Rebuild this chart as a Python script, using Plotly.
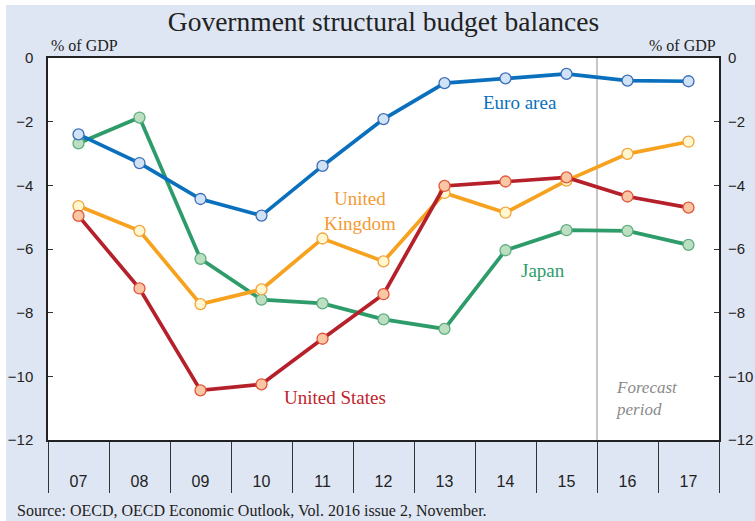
import plotly.graph_objects as go

years = ["07", "08", "09", "10", "11", "12", "13", "14", "15", "16", "17"]
euro_area = [-2.40, -3.30, -4.43, -4.95, -3.39, -1.92, -0.79, -0.64, -0.50, -0.71, -0.73]
japan = [-2.68, -1.87, -6.31, -7.59, -7.71, -8.21, -8.51, -6.04, -5.41, -5.43, -5.87]
united_kingdom = [-4.65, -5.43, -7.73, -7.27, -5.67, -6.39, -4.24, -4.86, -3.85, -3.01, -2.63]
united_states = [-4.96, -7.24, -10.44, -10.25, -8.82, -7.42, -4.02, -3.88, -3.75, -4.35, -4.70]
y_ticks = [0, -2, -4, -6, -8, -10, -12]

BG = "#dfe6f3"
SERIF = "Liberation Serif, Times New Roman, serif"
SANS = "Liberation Sans, Arial, sans-serif"

series = [
    ("Japan", japan, "#2e9c6a", "#bcdfc2", "#5fae80"),
    ("United Kingdom", united_kingdom, "#f7a21e", "#fff7cf", "#f2a33a"),
    ("United States", united_states, "#b5202a", "#f9c7a4", "#e2563c"),
    ("Euro area", euro_area, "#0a70bd", "#d0e3f6", "#3b6db6"),
]

fig = go.Figure()
for name, vals, lc, fc, oc in series:
    fig.add_trace(go.Scatter(
        x=years, y=vals, name=name, mode="lines+markers",
        line=dict(color=lc, width=3.7),
        marker=dict(size=11, color=fc, line=dict(color=oc, width=1.3)),
        showlegend=False, cliponaxis=False,
    ))
# invisible trace to anchor the right-hand axis
fig.add_trace(go.Scatter(x=years, y=euro_area, yaxis="y2", mode="lines",
                         line=dict(width=0), opacity=0, showlegend=False,
                         hoverinfo="skip"))

fig.update_layout(
    width=755, height=521,
    margin=dict(l=48, r=36, t=58, b=81, autoexpand=False),
    paper_bgcolor=BG, plot_bgcolor="white",
    title=dict(text="Government structural budget balances",
               x=0.5, xref="paper", xanchor="center",
               y=1 - 21 / 521, yref="container", yanchor="middle",
               font=dict(family=SERIF, size=27.5, color="#222")),
    xaxis=dict(
        type="category", categoryorder="array", categoryarray=years,
        range=[-0.5, len(years) - 0.5], automargin=False,
        showline=True, linecolor="#222", linewidth=1.5, mirror=True,
        ticks="outside", tickson="boundaries", ticklen=51, tickwidth=1,
        tickcolor="#333", ticklabelstandoff=26,
        tickfont=dict(family=SANS, size=16, color="#222"),
        showgrid=False, zeroline=False,
    ),
    yaxis=dict(
        range=[-12, 0], tickvals=y_ticks, automargin=False,
        showline=True, linecolor="#222", linewidth=1.5, mirror=True,
        ticks="inside", ticklen=5, tickcolor="#333",
        ticklabelstandoff=10,
        tickfont=dict(family=SANS, size=15, color="#222"),
        showgrid=False, zeroline=False,
    ),
    yaxis2=dict(
        range=[-12, 0], tickvals=y_ticks, overlaying="y", side="right",
        automargin=False,
        showline=False, ticks="inside", ticklen=5, tickcolor="#333",
        ticklabelstandoff=8,
        tickfont=dict(family=SANS, size=15, color="#222"),
        showgrid=False, zeroline=False,
    ),
)

# white strips at the very top and left edge of the image
fig.add_shape(type="rect", xref="paper", yref="paper",
              x0=-48 / 671, x1=1 + 36 / 671, y0=1 + 53 / 382, y1=1 + 58 / 382,
              fillcolor="white", line=dict(width=0), layer="below")
fig.add_shape(type="rect", xref="paper", yref="paper",
              x0=-48 / 671, x1=-42 / 671, y0=-81 / 382, y1=1 + 58 / 382,
              fillcolor="white", line=dict(width=0), layer="below")

# forecast divider
fig.add_shape(type="line", xref="x", yref="paper", x0=8.5, x1=8.5, y0=0, y1=1,
              line=dict(color="#b5b5b5", width=1.5), layer="below")

ann = [
    dict(text="Euro area", x=7.23, y=-1.4, color="#0a70bd"),
    dict(text="United<br>Kingdom", x=4.62, y=-4.8, color="#f39a33"),
    dict(text="Japan", x=7.62, y=-6.67, color="#2e9c6a"),
    dict(text="United States", x=4.21, y=-10.66, color="#c0232d"),
]
for a in ann:
    fig.add_annotation(text=a["text"], x=a["x"], y=a["y"], xref="x", yref="y",
                       showarrow=False, xanchor="center", yanchor="middle",
                       font=dict(family=SERIF, size=19, color=a["color"]),
                       align="center")
fig.add_annotation(text="<i>Forecast<br>period</i>", x=8.78, y=-10.7, xref="x", yref="y",
                   showarrow=False, xanchor="left", yanchor="middle", align="left",
                   font=dict(family=SERIF, size=17, color="#8a8a8a"))

fig.add_annotation(text="% of GDP", x=0, y=1, xref="paper", yref="paper",
                   xanchor="left", yanchor="bottom", yshift=2, xshift=1, showarrow=False,
                   font=dict(family=SERIF, size=16, color="#222"))
fig.add_annotation(text="% of GDP", x=1, y=1, xref="paper", yref="paper",
                   xanchor="right", yanchor="bottom", yshift=2, xshift=-1, showarrow=False,
                   font=dict(family=SERIF, size=16, color="#222"))
fig.add_annotation(text="Source: OECD, OECD Economic Outlook, Vol. 2016 issue 2, November.",
                   x=0, y=0, xref="paper", yref="paper", xanchor="left", yanchor="middle",
                   xshift=-33, yshift=-70, showarrow=False,
                   font=dict(family=SERIF, size=16, color="#222"))

fig.write_html("out.html")
